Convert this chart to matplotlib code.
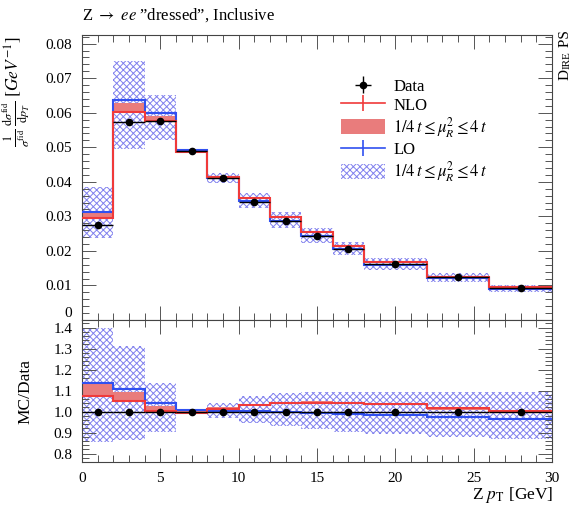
import numpy as np
import matplotlib
matplotlib.use("Agg")
import matplotlib.pyplot as plt
from matplotlib.lines import Line2D
from matplotlib.patches import Patch
from matplotlib.ticker import MultipleLocator, FuncFormatter, FormatStrFormatter

# ---------------- data ----------------
edges = [0, 2, 4, 6, 8, 10, 12, 14, 16, 18, 22, 26, 30]
data = [0.0276, 0.0573, 0.0575, 0.0490, 0.0410, 0.0343, 0.0287, 0.0243,
        0.0207, 0.0163, 0.0124, 0.0094]
data_err = [0.0001, 0.0002, 0.0002, 0.0002, 0.0001, 0.0001, 0.0001, 0.0001,
            0.0001, 0.00005, 0.00005, 0.00004]
nlo = [0.02959, 0.06017, 0.05767, 0.04871, 0.04149, 0.03533, 0.02991, 0.02534,
       0.02153, 0.01687, 0.01259, 0.00942]
nlo_up = [0.03133, 0.06274, 0.05894, 0.04915, 0.04182, 0.03557, 0.03008, 0.02547,
          0.02163, 0.01695, 0.01265, 0.00947]
nlo_dn = [0.02953, 0.06005, 0.05750, 0.04851, 0.04133, 0.03523, 0.02979, 0.02522,
          0.02142, 0.01679, 0.01252, 0.00937]
lo = [0.03133, 0.06360, 0.05992, 0.04929, 0.04112, 0.03437, 0.02870, 0.02418,
      0.02049, 0.01606, 0.01211, 0.00908]
lo_up = [0.03864, 0.07506, 0.06526, 0.04949, 0.04264, 0.03687, 0.03123, 0.02654,
         0.02265, 0.01783, 0.01357, 0.01028]
lo_dn = [0.02360, 0.04956, 0.05204, 0.04876, 0.03977, 0.03252, 0.02675, 0.02231,
         0.01873, 0.01459, 0.01090, 0.00816]

title = "Z $\\rightarrow$ $ee$ \u201ddressed\u201d, Inclusive"
band_label = r"$1/4\,t \leq \mu_R^2 \leq 4\,t$"

# ---------------- style ----------------
plt.rcParams['font.family'] = ['Liberation Serif', 'DejaVu Serif']
plt.rcParams['mathtext.fontset'] = 'stix'
plt.rcParams['hatch.linewidth'] = 0.7

RED = '#f03a3a'
REDFILL = '#e97c7c'
BLUE = '#3050f0'
HATCH = '#8080ee'
TICKC = '#555555'

fig = plt.figure(figsize=(5.74, 5.05), dpi=100)
ax = fig.add_axes([0.1429, 0.3663, 0.8188, 0.5644])
rax = fig.add_axes([0.1429, 0.0851, 0.8188, 0.2812], sharex=ax)

e = np.array(edges, dtype=float)
d = np.array(data)
de = np.array(data_err)
cen = 0.5 * (e[1:] + e[:-1])
hw = 0.5 * np.diff(e)

series = dict(nlo=np.array(nlo), nlo_up=np.array(nlo_up), nlo_dn=np.array(nlo_dn),
              lo=np.array(lo), lo_up=np.array(lo_up), lo_dn=np.array(lo_dn))


def draw(a, s, dv, dev):
    a.stairs(s['lo_up'], e, baseline=s['lo_dn'], fill=True, facecolor='none',
             edgecolor=HATCH, hatch='xxxxx', linewidth=0, zorder=1)
    a.stairs(s['nlo_up'], e, baseline=s['nlo_dn'], fill=True, facecolor=REDFILL,
             edgecolor='none', linewidth=0, zorder=2)
    a.stairs(s['lo'], e, baseline=None, color=BLUE, lw=1.5, zorder=3)
    a.stairs(s['nlo'], e, baseline=None, color=RED, lw=1.5, zorder=4)
    return a.errorbar(cen, dv, xerr=hw, yerr=dev, fmt='o', color='black',
                      ms=4.5, lw=1.0, capsize=0, zorder=5)


eb = draw(ax, series, d, de)
rseries = {k: v / d for k, v in series.items()}
draw(rax, rseries, np.ones_like(d), de / d)

# ---------------- axes ----------------
ax.set_xlim(0, 30)
ax.set_ylim(0, 0.0825)
rax.set_ylim(0.76, 1.436)

for a in (ax, rax):
    a.xaxis.set_major_locator(MultipleLocator(5))
    a.xaxis.set_minor_locator(MultipleLocator(1))
    a.tick_params(which='both', direction='in', top=True, right=True,
                  color=TICKC, width=0.7, labelsize=11, pad=7)
    a.tick_params(which='major', length=10)
    a.tick_params(which='minor', length=5)
    for sp in a.spines.values():
        sp.set_color('#444444')
        sp.set_linewidth(0.8)

ax.yaxis.set_major_locator(MultipleLocator(0.01))
ax.yaxis.set_minor_locator(MultipleLocator(0.002))
ax.yaxis.set_major_formatter(FuncFormatter(lambda v, p: '0' if abs(v) < 1e-9 else f'{v:.2f}'))
ax.tick_params(labelbottom=False)

rax.yaxis.set_major_locator(MultipleLocator(0.1))
rax.yaxis.set_minor_locator(MultipleLocator(0.02))
rax.yaxis.set_major_formatter(FormatStrFormatter('%.1f'))

ax.set_ylabel(r"$\frac{1}{\sigma^{\mathrm{fid}}}\,\frac{\mathrm{d}\sigma^{\mathrm{fid}}}{\mathrm{d}p_T}\ [GeV^{-1}]$",
              fontsize=12.5, loc='top')
ax.yaxis.set_label_coords(-0.108, 0.993)
rax.set_ylabel("MC/Data", fontsize=12.5)
rax.yaxis.set_label_coords(-0.104, 0.5)
fig.text(553 / 574, 1 - 499 / 505, r"Z $p_{\mathrm{T}}$ [GeV]", fontsize=12.5,
         ha='right', va='baseline')

fig.text(82 / 574, 1 - 15 / 505, title, fontsize=12, ha='left', va='center')

# "Dire PS" generator tag (small caps)
xr = 572 / 574
t1 = fig.text(xr, 1 - 80 / 505, "D", fontsize=11, rotation=90, ha='right', va='bottom')
t2 = fig.text(xr, 0, "IRE", fontsize=8, rotation=90, ha='right', va='bottom')
t3 = fig.text(xr, 0, " PS", fontsize=11, rotation=90, ha='right', va='bottom')
fig.canvas.draw()
r = fig.canvas.get_renderer()
inv = fig.transFigure.inverted()
bb1 = t1.get_window_extent(r)
t2.set_y(inv.transform((0, bb1.y1))[1])
fig.canvas.draw()
bb2 = t2.get_window_extent(r)
t3.set_y(inv.transform((0, bb2.y1))[1])

# ---------------- legend ----------------
h_nlo = Line2D([], [], color=RED, lw=1.2, marker='|', ms=11, mew=1.2)
h_lo = Line2D([], [], color=BLUE, lw=1.2, marker='|', ms=11, mew=1.2)
h_nb = Patch(facecolor=REDFILL, edgecolor='none')
h_lb = Patch(facecolor='none', edgecolor=HATCH, hatch='xxxxx', lw=0)
ax.legend([eb, h_nlo, h_nb, h_lo, h_lb],
          ["Data", "NLO", band_label, "LO", band_label],
          loc='upper left', bbox_to_anchor=(0.552, 0.849), frameon=False,
          fontsize=12, handlelength=2.6, handletextpad=0.5,
          labelspacing=0.08, borderpad=0, borderaxespad=0, handleheight=1.0)

# lift the main-panel "0" label above the panel boundary, as in the reference
fig.canvas.draw()
for t in ax.yaxis.get_major_ticks():
    if t.label1.get_text() == '0':
        t.label1.set_va('bottom')

fig.savefig("out.png", dpi=100)
